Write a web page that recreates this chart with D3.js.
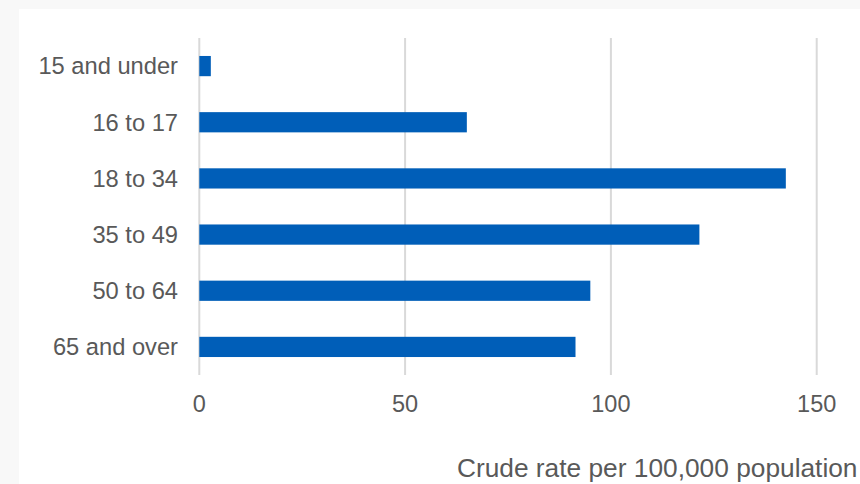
<!DOCTYPE html>
<html>
<head>
<meta charset="utf-8">
<script src="https://cdn.jsdelivr.net/npm/d3@7"></script>
<style>
  html, body { margin: 0; padding: 0; background: #f8f8f8; }
  svg { display: block; }
  text { font-family: Arial, "Liberation Sans", Helvetica, sans-serif; fill: #595959; }
</style>
</head>
<body>
<svg id="chart" width="860" height="484"></svg>
<script>
const categories = ["15 and under", "16 to 17", "18 to 34", "35 to 49", "50 to 64", "65 and over"];
const values = [2.8, 65.0, 142.5, 121.5, 95.0, 91.4];
const tickValues = [0, 50, 100, 150];
const axisTitle = "Crude rate per 100,000 population";

const svg = d3.select("#chart");
svg.append("rect").attr("x", 19).attr("y", 9).attr("width", 841).attr("height", 475).attr("fill", "#ffffff");

const x = d3.scaleLinear().domain([0, 150]).range([199.3, 816.7]);
const y = d3.scaleBand().domain(categories).range([38, 375]).paddingInner(0.64).paddingOuter(0.32);

svg.append("g").selectAll("line").data(tickValues).join("line")
  .attr("x1", d => x(d)).attr("x2", d => x(d))
  .attr("y1", 38).attr("y2", 375)
  .attr("stroke", "#d9d9d9").attr("stroke-width", 2);

svg.append("g").selectAll("rect").data(values).join("rect")
  .attr("x", x(0))
  .attr("y", (d, i) => y(categories[i]))
  .attr("width", d => x(d) - x(0))
  .attr("height", y.bandwidth())
  .attr("fill", "#005EB8");

svg.append("g").selectAll("text").data(categories).join("text")
  .attr("x", 178)
  .attr("y", d => y(d) + y.bandwidth() / 2)
  .attr("dy", "0.35em")
  .attr("text-anchor", "end")
  .attr("font-size", 23.7)
  .text(d => d);

svg.append("g").selectAll("text").data(tickValues).join("text")
  .attr("x", d => x(d))
  .attr("y", 412)
  .attr("text-anchor", "middle")
  .attr("font-size", 23.5)
  .text(d => d3.format("d")(d));

svg.append("text")
  .attr("x", 857.5)
  .attr("y", 476.5)
  .attr("text-anchor", "end")
  .attr("font-size", 26.3)
  .text(axisTitle);
</script>
</body>
</html>
